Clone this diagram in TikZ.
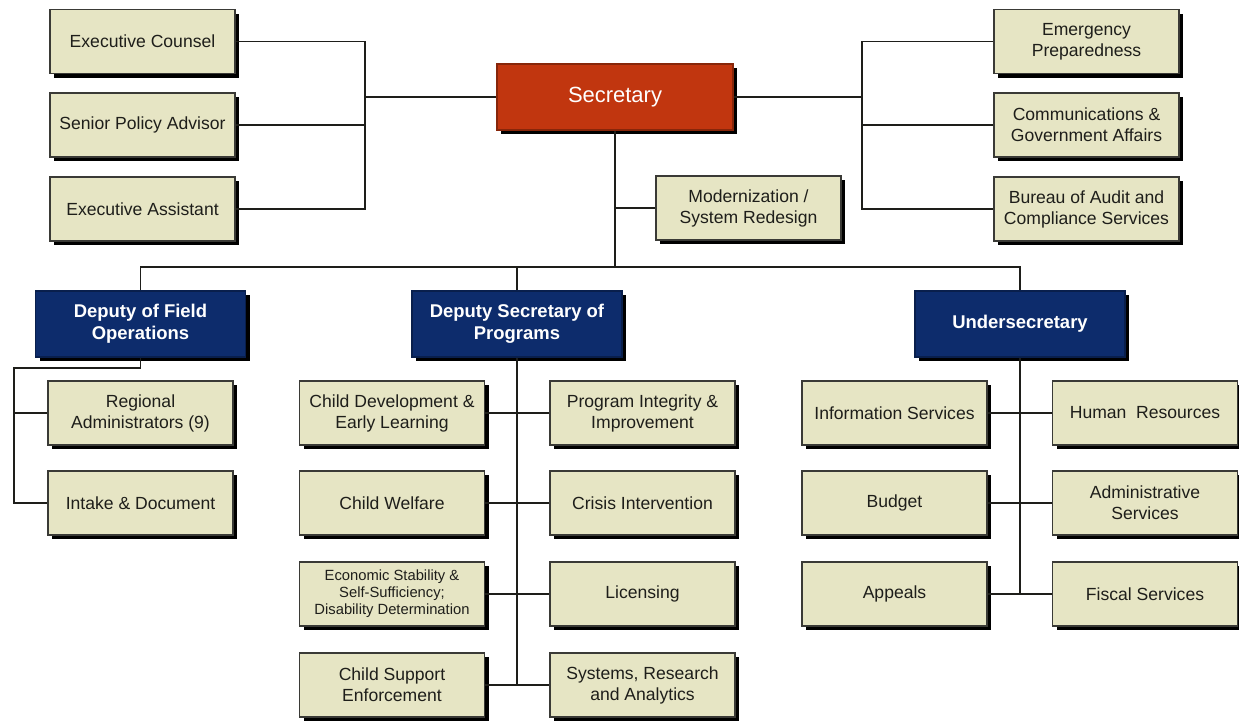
\documentclass[tikz,border=0pt]{standalone}
\usepackage{fontspec}
\setmainfont{Liberation Sans}
\usepackage{tikz}
\usetikzlibrary{shadows}
\definecolor{beige}{HTML}{E6E5C4}
\definecolor{secred}{HTML}{C1360F}
\definecolor{depblue}{HTML}{0D2C6C}
\definecolor{edge}{HTML}{3A3A36}
\definecolor{ink}{HTML}{1E1E1A}
\tikzset{unit/.style={draw=edge,line width=0.6pt,fill=beige,align=center,font=\fontsize{10}{12}\selectfont,text=ink,minimum width=37mm,minimum height=12.8mm,inner sep=1pt,drop shadow={shadow xshift=2.4pt,shadow yshift=-2.4pt,opacity=1,fill=black}},smallunit/.style={unit,font=\fontsize{8.4}{9.6}\selectfont},head/.style={unit,fill=depblue,draw=depblue!70!black,text=white,font=\bfseries\fontsize{10.5}{12.5}\selectfont,minimum width=42mm,minimum height=13.2mm},top/.style={head,fill=secred,draw=secred!70!black,font=\fontsize{12.5}{15}\selectfont,minimum width=47.2mm},link/.style={draw=ink,line width=1pt}}

\begin{document}
\begin{tikzpicture}[x=0.2mm,y=-0.2mm]
\useasboundingbox (0,0) rectangle (1239,721);
% secretary and staff
\node[top] (sec) at (615,97) {Secretary};
\node[unit] (counsel) at (142.5,41.5) {Executive Counsel};
\node[unit] (advisor) at (142.5,125) {Senior Policy Advisor};
\node[unit] (assistant) at (142.5,209) {Executive Assistant};
\node[unit] (emerg) at (1086.5,41.5) {Emergency\\Preparedness};
\node[unit] (comm) at (1086.5,125) {Communications \&\\Government Affairs};
\node[unit] (bureau) at (1086.5,209) {Bureau of Audit and\\Compliance Services};
\node[unit] (modern) at (748.5,208) {Modernization /\\System Redesign};
% deputies
\node[head] (dfo) at (140.5,324) {Deputy of Field\\Operations};
\node[head] (dsp) at (517,324) {Deputy Secretary of\\Programs};
\node[head] (under) at (1020,324) {Undersecretary};
% field operations
\node[unit] (regional) at (140.5,413) {Regional\\Administrators (9)};
\node[unit] (intake) at (140.5,503) {Intake \& Document};
% programs
\node[unit] (childdev) at (392,413) {Child Development \&\\Early Learning};
\node[unit] (integrity) at (642.5,413) {Program Integrity \&\\Improvement};
\node[unit] (welfare) at (392,503) {Child Welfare};
\node[unit] (crisis) at (642.5,503) {Crisis Intervention};
\node[smallunit] (econ) at (392,594) {Economic Stability \&\\Self-Sufficiency;\\Disability Determination};
\node[unit] (licensing) at (642.5,594) {Licensing};
\node[unit] (support) at (392,685) {Child Support\\Enforcement};
\node[unit] (systems) at (642.5,685) {Systems, Research\\and Analytics};
% undersecretary
\node[unit] (info) at (894.5,413) {Information Services};
\node[unit] (hr) at (1145,413) {Human~ Resources};
\node[unit] (budget) at (894.5,503) {Budget};
\node[unit] (admin) at (1145,503) {Administrative\\Services};
\node[unit] (appeals) at (894.5,594) {Appeals};
\node[unit] (fiscal) at (1145,594) {Fiscal Services};
% connectors
\coordinate (lj) at (365,97);
\coordinate (rj) at (862,97);
\coordinate (hub) at (615,267);
\coordinate (fj) at (14,368);
\draw[link] (counsel.east) -| (lj) |- (assistant.east);
\draw[link] (advisor.east) -- (advisor.east -| lj);
\draw[link] (lj) -- (sec.west);
\draw[link] (emerg.west) -| (rj) |- (bureau.west);
\draw[link] (comm.west) -- (comm.west -| rj);
\draw[link] (sec.east) -- (rj);
\draw[link] (sec.south) -- (hub);
\draw[link] (modern.west) -- (modern.west -| hub);
\draw[link] (dfo.north) |- (hub) -| (under.north);
\draw[link] (dsp.north) -- (dsp.north |- hub);
\draw[link] (dfo.south) |- (fj) |- (intake.west);
\draw[link] (regional.west) -- (regional.west -| fj);
\draw[link] (dsp.south) -- (dsp.south |- support.east);
\draw[link] (childdev.east) -- (integrity.west);
\draw[link] (welfare.east) -- (crisis.west);
\draw[link] (econ.east) -- (licensing.west);
\draw[link] (support.east) -- (systems.west);
\draw[link] (under.south) -- (under.south |- appeals.east);
\draw[link] (info.east) -- (hr.west);
\draw[link] (budget.east) -- (admin.west);
\draw[link] (appeals.east) -- (fiscal.west);
\end{tikzpicture}
\end{document}
